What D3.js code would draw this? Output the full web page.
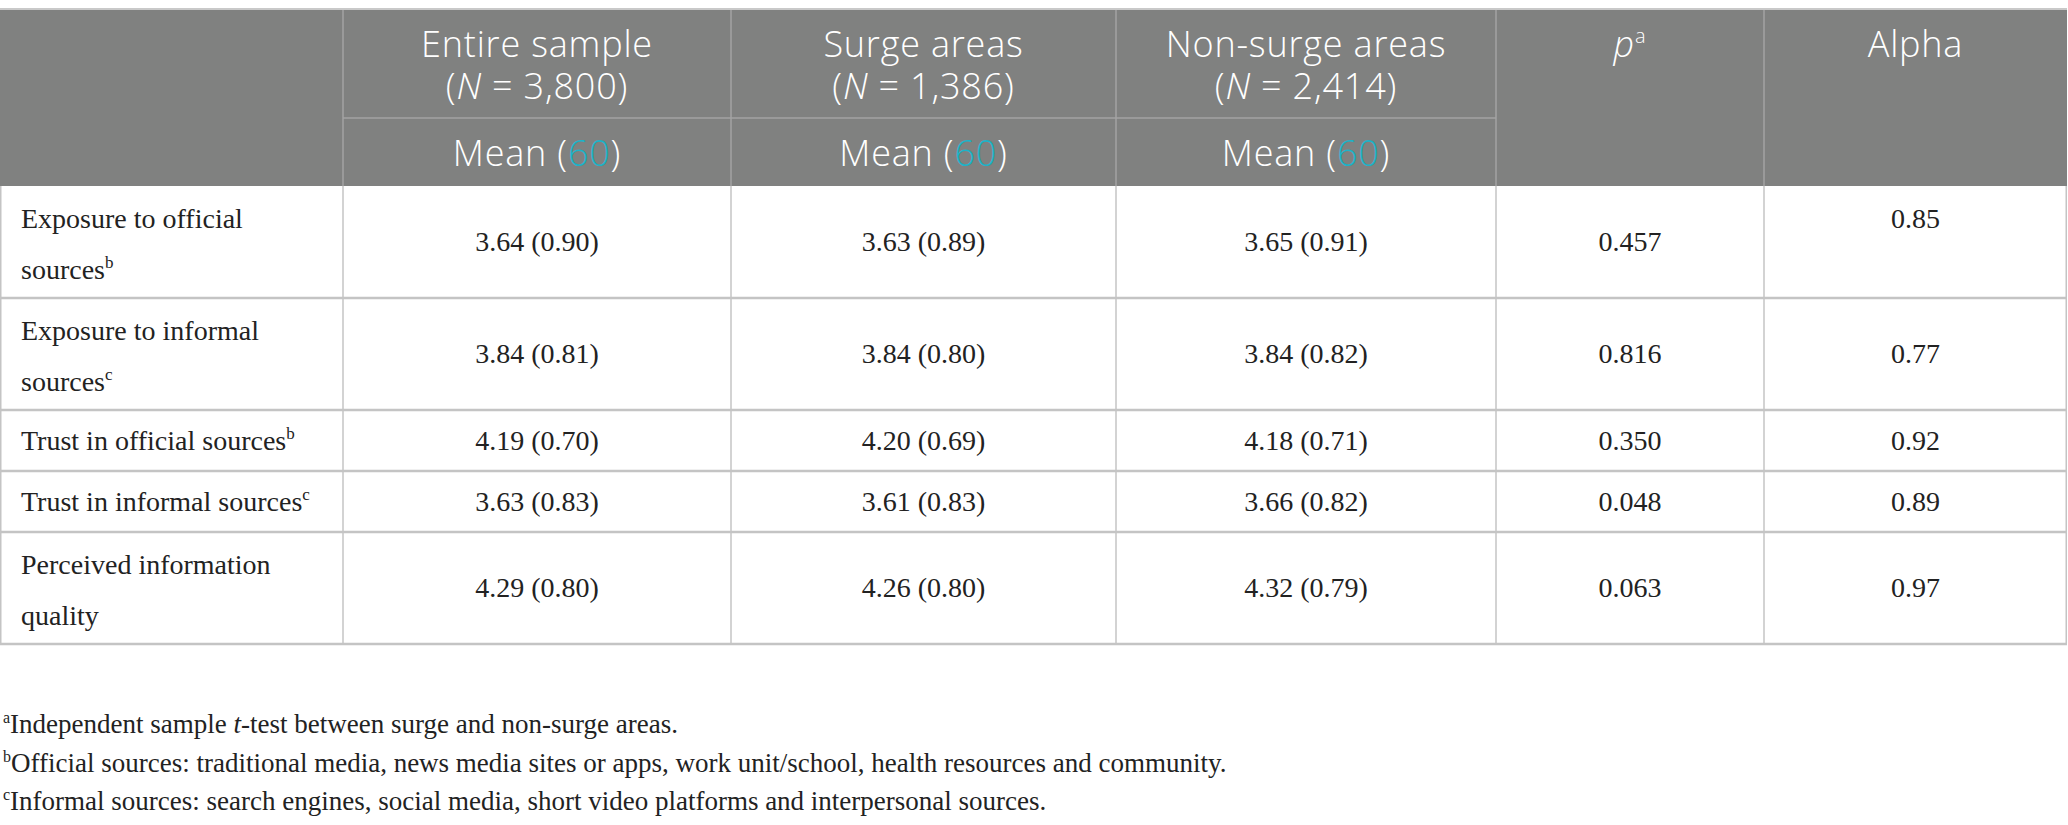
<!DOCTYPE html>
<html>
<head>
<meta charset="utf-8">
<script src="https://cdn.jsdelivr.net/npm/d3@7"></script>
<style>
  body { margin: 0; background: #fff; }
  svg { display: block; }
</style>
</head>
<body>
<svg id="chart" width="2068" height="825"></svg>
<script>
// table contents
const groups = ["Entire sample", "Surge areas", "Non-surge areas"];
const groupN = [3800, 1386, 2414];
const measureLines = [
  ["Exposure to official", "sources"],
  ["Exposure to informal", "sources"],
  ["Trust in official sources"],
  ["Trust in informal sources"],
  ["Perceived information", "quality"]
];
const measureNotes = ["b", "c", "b", "c", ""];
const entireMean = [3.64, 3.84, 4.19, 3.63, 4.29];
const entireSD   = [0.90, 0.81, 0.70, 0.83, 0.80];
const surgeMean  = [3.63, 3.84, 4.20, 3.61, 4.26];
const surgeSD    = [0.89, 0.80, 0.69, 0.83, 0.80];
const nonMean    = [3.65, 3.84, 4.18, 3.66, 4.32];
const nonSD      = [0.91, 0.82, 0.71, 0.82, 0.79];
const pValues    = [0.457, 0.816, 0.350, 0.048, 0.063];
const alphas     = [0.85, 0.77, 0.92, 0.89, 0.97];
const footnotes = [
  {sup: "a", parts: [["Independent sample ", false], ["t", true], ["-test between surge and non-surge areas.", false]]},
  {sup: "b", parts: [["Official sources: traditional media, news media sites or apps, work unit/school, health resources and community.", false]]},
  {sup: "c", parts: [["Informal sources: search engines, social media, short video platforms and interpersonal sources.", false]]}
];

// layout
const colKeys = ["label", "entire", "surge", "non", "p", "alpha"];
const colWidths = [343, 388, 385, 380, 268, 303];
const tableTop = 9, headSplit = 118, headBottom = 186;
const lineH = 51, rowPad = 10;
const headFont = "'Open Sans', Lato, sans-serif";
const bodyFont = "'Liberation Serif', 'DejaVu Serif', serif";
const headFill = "#808180", gridBody = "#c4c4c4", gridHead = "#a3a3a3";
const blue = "#1cb3c8";

const svg = d3.select("#chart");
const colEdges = [0, ...d3.cumsum(colWidths)];
const x = d3.scaleOrdinal().domain(colKeys).range(colEdges.slice(0, -1));
const w = d3.scaleOrdinal().domain(colKeys).range(colWidths);
const tableRight = colEdges[colEdges.length - 1];

const rowHeights = measureLines.map(l => rowPad + lineH * l.length);
const rowTops = [headBottom, ...d3.cumsum(rowHeights).map(v => v + headBottom)];
const y = d3.scaleOrdinal().domain(d3.range(measureLines.length)).range(rowTops.slice(0, -1));
const tableBottom = rowTops[rowTops.length - 1];

const f2 = d3.format(".2f"), f3 = d3.format(".3f"), fN = d3.format(",");

// header background
svg.append("rect")
  .attr("x", 0).attr("y", tableTop)
  .attr("width", tableRight).attr("height", headBottom - tableTop)
  .attr("fill", headFill);

const head = svg.append("g").attr("font-family", headFont).attr("font-weight", 300)
  .attr("fill", "#fff").attr("font-size", 36).attr("letter-spacing", 0.8);

groups.forEach((g, i) => {
  const k = colKeys[i + 1];
  const cx = x(k) + w(k) / 2;
  const t = head.append("text").attr("x", cx).attr("y", 57).attr("text-anchor", "middle");
  t.append("tspan").attr("x", cx).text(g);
  t.append("tspan").attr("x", cx).attr("dy", 42).text("(");
  t.append("tspan").attr("font-style", "italic").text("N");
  t.append("tspan").text(" = " + fN(groupN[i]) + ")");
  const t3 = head.append("text").attr("x", cx).attr("y", 166).attr("text-anchor", "middle");
  t3.append("tspan").text("Mean (");
  t3.append("tspan").attr("fill", blue).text("60");
  t3.append("tspan").text(")");
});

const pHead = head.append("text").attr("x", x("p") + w("p") / 2).attr("y", 57)
  .attr("text-anchor", "middle");
pHead.append("tspan").attr("font-style", "italic").text("p");
pHead.append("tspan").attr("font-size", 20).attr("dy", -14).text("a");
head.append("text").attr("x", x("alpha") + w("alpha") / 2).attr("y", 57)
  .attr("text-anchor", "middle").text("Alpha");

// header grid
const hg = svg.append("g").attr("stroke", gridHead).attr("stroke-width", 1.5);
colKeys.slice(1).forEach(k => {
  hg.append("line").attr("x1", x(k)).attr("x2", x(k)).attr("y1", tableTop).attr("y2", headBottom);
});
hg.append("line").attr("x1", x("entire")).attr("x2", x("p")).attr("y1", headSplit).attr("y2", headSplit);

// body
const body = svg.append("g").attr("font-family", bodyFont).attr("fill", "#222").attr("font-size", 28);

measureLines.forEach((lines, r) => {
  const top = y(r), h = rowHeights[r], mid = top + h / 2;
  const firstBase = lines.length > 1 ? top + 42 : mid + 9;
  const lx = x("label") + 21;
  const t = body.append("text").attr("x", lx).attr("y", firstBase);
  lines.forEach((ln, j) => {
    t.append("tspan").attr("x", lx).attr("dy", j === 0 ? 0 : lineH).text(ln);
  });
  if (measureNotes[r]) {
    t.append("tspan").attr("font-size", 17).attr("dy", -11).text(measureNotes[r]);
  }
  const cells = [
    ["entire", f2(entireMean[r]) + " (" + f2(entireSD[r]) + ")"],
    ["surge", f2(surgeMean[r]) + " (" + f2(surgeSD[r]) + ")"],
    ["non", f2(nonMean[r]) + " (" + f2(nonSD[r]) + ")"],
    ["p", f3(pValues[r])],
    ["alpha", f2(alphas[r])]
  ];
  cells.forEach(([k, txt]) => {
    const by = (k === "alpha" && r === 0) ? firstBase : mid + 9;
    body.append("text").attr("x", x(k) + w(k) / 2).attr("y", by)
      .attr("text-anchor", "middle").text(txt);
  });
});

// body grid
const bg = svg.append("g").attr("stroke", gridBody).attr("fill", "none");
colEdges.forEach((cx, i) => {
  const lx = i === 0 ? 0.75 : (i === colEdges.length - 1 ? cx - 0.75 : cx);
  bg.append("line").attr("stroke-width", 1.5)
    .attr("x1", lx).attr("x2", lx).attr("y1", headBottom).attr("y2", tableBottom);
});
rowTops.slice(1).forEach(ry => {
  bg.append("line").attr("stroke-width", 2.5)
    .attr("x1", 0).attr("x2", tableRight).attr("y1", ry).attr("y2", ry);
});
svg.append("line").attr("stroke", "#c9c9c9").attr("stroke-width", 2)
  .attr("x1", 0).attr("x2", tableRight).attr("y1", tableTop).attr("y2", tableTop);

// footnotes
const foot = svg.append("g").attr("font-family", bodyFont).attr("fill", "#222").attr("font-size", 27);
footnotes.forEach((fn, i) => {
  const t = foot.append("text").attr("x", 3).attr("y", 733 + i * 38.5);
  t.append("tspan").attr("font-size", 16).attr("dy", -10).text(fn.sup);
  fn.parts.forEach(([s, it], j) => {
    const sp = t.append("tspan").text(s);
    if (j === 0) sp.attr("dy", 10);
    if (it) sp.attr("font-style", "italic");
  });
});
</script>
</body>
</html>
